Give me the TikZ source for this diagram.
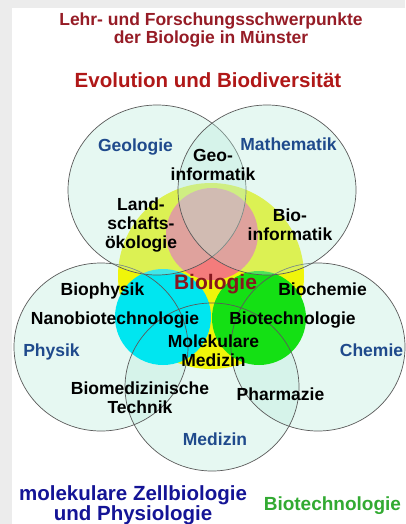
\documentclass[tikz,border=0pt]{standalone}
\usepackage{fontspec}
\setmainfont{Liberation Sans}
\usetikzlibrary{shapes.geometric}
\definecolor{paper}{RGB}{236,236,236}
\definecolor{tint}{RGB}{185,235,220}
\definecolor{rim}{RGB}{90,90,90}
\definecolor{bioyellow}{RGB}{240,245,10}
\definecolor{biored}{RGB}{244,124,124}
\definecolor{biocyan}{RGB}{0,230,240}
\definecolor{biogreen}{RGB}{20,224,20}
\definecolor{headred}{RGB}{150,28,38}
\definecolor{evored}{RGB}{176,24,24}
\definecolor{bioword}{RGB}{135,22,30}
\definecolor{fieldblue}{RGB}{31,74,140}
\definecolor{cellblue}{RGB}{20,20,150}
\definecolor{techgreen}{RGB}{50,170,50}

\begin{document}
\begin{tikzpicture}[
  x=1pt, y=-1pt,
  ring/.style={ellipse, draw=rim, line width=0.7pt, inner sep=0pt,
               minimum width=178pt, minimum height=170pt},
  low/.style={ellipse, inner sep=0pt, fill=tint, fill opacity=0.35,
              minimum width=174pt, minimum height=168pt},
  blob/.style={circle, inner sep=0pt},
  lbl/.style={font=\fontsize{17.5}{19}\selectfont\bfseries, align=center, inner sep=0pt},
  field/.style={lbl, text=fieldblue},
  big/.style={font=\fontsize{20.5}{20}\selectfont\bfseries, align=center, inner sep=0pt}
]
\useasboundingbox (0,0) rectangle (405,524);
\fill[paper] (0,0) rectangle (405,524);
\fill[white] (12,8) rectangle (405,524);

% lower fields, tint only
\node[low] (phy) at (101,347) {};
\node[low] (che) at (318,347) {};
\node[low] (med) at (212,387) {};

% core of biology
\node[blob, fill=bioyellow, minimum size=186pt] (yel) at (211,276) {};
\node[blob, fill=biored, minimum size=92pt] (rd) at (212,234) {};
\node[blob, fill=biocyan, minimum size=96pt] (cyn) at (163,317) {};
\node[blob, fill=biogreen, minimum size=94pt] (grn) at (259,318) {};

% rims of the lower fields
\foreach \n in {phy, che, med}
  \draw[rim, line width=0.7pt] (\n.center) ellipse [x radius=87, y radius=84];

% upper fields over the core
\node[ring, fill=tint, fill opacity=0.35] (geo) at (157,190) {};
\node[ring, fill=tint, fill opacity=0.35] (mat) at (267,190) {};

% headings
\node[lbl, font=\fontsize{17.5}{18}\selectfont\bfseries, text=headred] (head) at (211,30.3)
  {Lehr- und Forschungsschwerpunkte\\der Biologie in Münster};
\node[big, text=evored] (evo) at (208,80.3) {Evolution und Biodiversität};

% labels
\node[field] (geol) at (135.5,147.3) {Geologie};
\node[field] (matl) at (288.5,144) {Mathematik};
\node[lbl] (geoinf) at (213,164.8) {Geo-\\informatik};
\node[lbl] (land) at (141,225) {Land-\\schafts-\\ökologie};
\node[lbl] (bioinf) at (290,224.5) {Bio-\\informatik};
\node[big, font=\fontsize{21}{21}\selectfont\bfseries, text=bioword] (biol) at (215.5,284.3) {Biologie};
\node[lbl] (bphys) at (102.5,290.7) {Biophysik};
\node[lbl] (bchem) at (322.5,289) {Biochemie};
\node[lbl] (nano) at (115,319.7) {Nanobiotechnologie};
\node[lbl] (btech) at (292.5,319.7) {Biotechnologie};
\node[field] (physl) at (51.5,351.7) {Physik};
\node[field] (cheml) at (371.5,350) {Chemie};
\node[lbl] (molmed) at (213.5,350.8) {Molekulare\\Medizin};
\node[lbl] (biomed) at (140,398) {Biomedizinische\\Technik};
\node[lbl] (pharma) at (280.5,394.7) {Pharmazie};
\node[field] (medl) at (215,439) {Medizin};

% footers
\node[big, text=cellblue] (cell) at (133,505) {molekulare Zellbiologie\\und Physiologie};
\node[big, font=\fontsize{19}{19}\selectfont\bfseries, text=techgreen] (techl) at (332.4,505.9) {Biotechnologie};
\end{tikzpicture}
\end{document}
